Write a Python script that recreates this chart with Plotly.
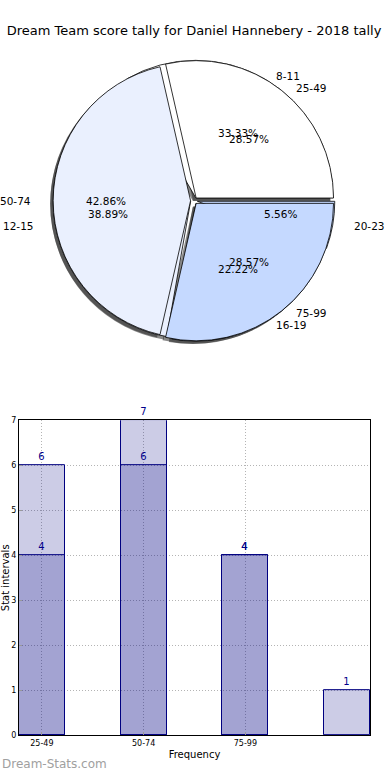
import math
import plotly.graph_objects as go

# ---------------- data ----------------
title_text = "Dream Team score tally for Daniel Hannebery - 2018 tally"

score_labels = ["25-49", "50-74", "75-99"]
score_counts = [4, 6, 4]

tally_labels = ["8-11", "12-15", "16-19", "20-23"]
tally_counts = [6, 7, 4, 1]

score_colors = ["#ffffff", "#eaf0fe", "#c5d9ff"]
tally_colors = ["#ffffff", "#eaf0fe", "#c5d9ff", "#c5d9ff"]

W, H = 390, 780
FONT = "DejaVu Sans"

# pie geometry (pixels)
cx, cy = 194, 199
R = 139
rx, ry = 146, 132  # text placement radii (matches reference aspect)
pull = 0.025


def dom(cxp, cyp, r, p):
    half = r * (1 + p)
    return dict(x=[(cxp - half) / W, (cxp + half) / W],
                y=[1 - (cyp + half) / H, 1 - (cyp - half) / H])


fig = go.Figure()


def add_pie(labels, values, colors, offx=0, offy=0, shadow=False):
    # first slice starts at 3 o'clock and runs counterclockwise
    rot = 90 - 360.0 * values[0] / sum(values)
    fig.add_trace(go.Pie(
        labels=labels, values=values, sort=False,
        direction="counterclockwise", rotation=rot,
        pull=[pull] * len(values),
        marker=dict(colors=(["rgba(40,40,40,0.55)"] * len(values)) if shadow else colors,
                    line=dict(color="rgba(0,0,0,0)" if shadow else "black",
                              width=0 if shadow else 0.8)),
        textinfo="none", hoverinfo="label+percent", showlegend=False,
        domain=dom(cx + offx, cy + offy, R, pull),
    ))


add_pie(tally_labels, tally_counts, tally_colors, -3, 3, shadow=True)
add_pie(score_labels, score_counts, score_colors, -3, 3, shadow=True)
add_pie(tally_labels, tally_counts, tally_colors)
add_pie(score_labels, score_counts, score_colors)

annotations = []


def pie_texts(labels, values):
    total = sum(values)
    start = 0.0
    for lab, v in zip(labels, values):
        frac = v / total
        mid = math.radians(start + frac * 180.0)
        start += frac * 360.0
        c, s = math.cos(mid), math.sin(mid)
        # percentage
        px = cx + 0.6 * rx * c
        py = cy - 0.6 * ry * s
        annotations.append(dict(x=px / W, y=1 - py / H, xref="paper", yref="paper",
                                text=f"{frac * 100:.2f}%", showarrow=False,
                                font=dict(family=FONT, size=10.5, color="black"),
                                xanchor="center", yanchor="middle"))
        # label
        lx = cx + 1.1 * rx * c
        ly = cy - 1.1 * ry * s
        annotations.append(dict(x=lx / W, y=1 - ly / H, xref="paper", yref="paper",
                                text=lab, showarrow=False,
                                font=dict(family=FONT, size=10.5, color="black"),
                                xanchor="left" if c >= 0 else "right", yanchor="middle"))


pie_texts(tally_labels, tally_counts)
pie_texts(score_labels, score_counts)

# ---------------- bars ----------------
bar_fill = "rgba(0,0,128,0.2)"
for vals in (tally_counts, score_counts):
    fig.add_trace(go.Bar(
        x=list(range(len(vals))), y=vals, width=0.45,
        marker=dict(color=bar_fill, line=dict(color="#000080", width=1)),
        text=[str(v) for v in vals], textposition="outside",
        textfont=dict(family=FONT, size=10, color="#00008b"),
        cliponaxis=False, showlegend=False, xaxis="x", yaxis="y",
    ))

annotations.append(dict(x=0, y=0.002, xref="paper", yref="paper", text="Dream-Stats.com",
                        showarrow=False, xanchor="left", yanchor="bottom",
                        font=dict(family=FONT, size=12, color="#a0a0a0")))

grid = dict(showgrid=True, gridcolor="#b4b4b4", griddash="1px,2px", gridwidth=1,
            showline=True, mirror=True, linecolor="black", linewidth=1,
            zeroline=False, tickfont=dict(size=8), ticks="inside", ticklen=3,
            tickcolor="#999")

fig.update_layout(
    width=W, height=H,
    margin=dict(l=0, r=0, t=0, b=0),
    paper_bgcolor="white", plot_bgcolor="white",
    barmode="overlay", bargap=0,
    title=dict(text=title_text, x=194 / W, xanchor="center", y=1 - 30 / H, yanchor="middle",
               font=dict(family=FONT, size=13, color="black")),
    font=dict(family=FONT, color="black"),
    annotations=annotations,
    xaxis=dict(domain=[19 / W, 370 / W], range=[-0.225, 3.225],
               tickvals=list(range(len(score_labels))), ticktext=score_labels,
               title=dict(text="Frequency", font=dict(size=10), standoff=3), **grid),
    yaxis=dict(domain=[1 - 740 / H, 1 - 421 / H], range=[0, 7], dtick=1,
               title=dict(text="Stat intervals", font=dict(size=10), standoff=2), **grid),
)

fig.write_html("out.html", config={"displayModeBar": False},
               post_script="document.body.style.margin='0';")
